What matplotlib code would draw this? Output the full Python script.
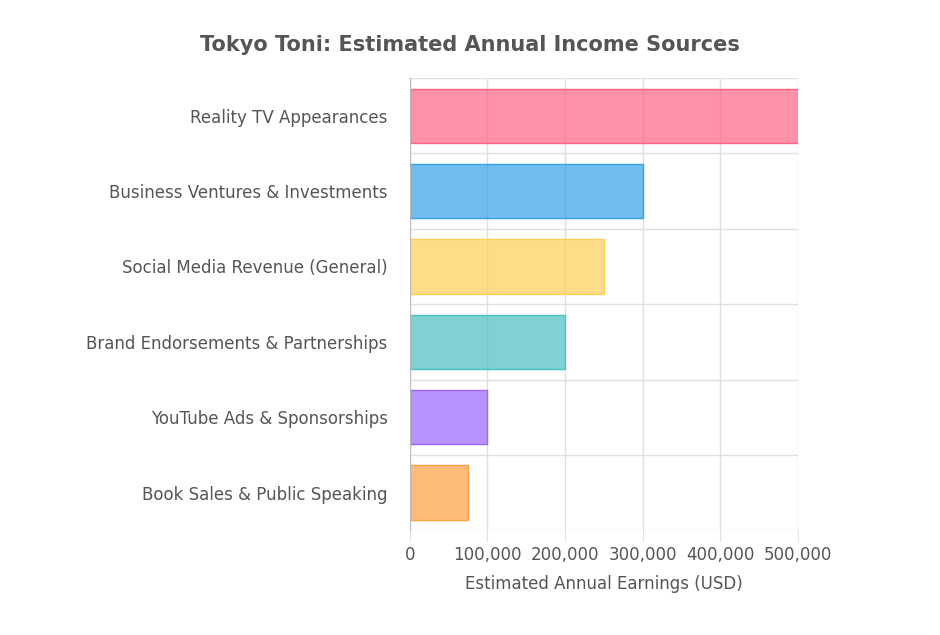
import matplotlib.pyplot as plt
from matplotlib.ticker import FuncFormatter

categories = ["Reality TV Appearances", "Business Ventures & Investments", "Social Media Revenue (General)",
              "Brand Endorsements & Partnerships", "YouTube Ads & Sponsorships", "Book Sales & Public Speaking"]
values = [500000, 300000, 250000, 200000, 100000, 75000]
fills = [(1, 99/255, 132/255, 0.7), (54/255, 162/255, 235/255, 0.7), (1, 206/255, 86/255, 0.7),
         (75/255, 192/255, 192/255, 0.7), (153/255, 102/255, 1, 0.7), (1, 159/255, 64/255, 0.7)]
edges = [(1, 99/255, 132/255), (54/255, 162/255, 235/255), (1, 206/255, 86/255),
         (75/255, 192/255, 192/255), (153/255, 102/255, 1), (1, 159/255, 64/255)]

fig = plt.figure(figsize=(9.4, 6.35), dpi=100)
ax = fig.add_axes([0.436, 0.165, 0.413, 0.712])
y = list(range(len(categories)))
ax.barh(y, values, height=0.72, color=fills, edgecolor=edges, linewidth=1)
ax.set_ylim(len(categories) - 0.5, -0.5)
ax.set_xlim(0, 500000)
ax.set_xticks(range(0, 500001, 100000))
ax.xaxis.set_major_formatter(FuncFormatter(lambda v, p: f"{int(v):,}"))
ax.set_yticks(y)
ax.set_yticklabels(categories)
ax.set_yticks([i + 0.5 for i in range(-1, len(categories))], minor=True)
ax.grid(True, axis='x', color='#e0e0e0', linewidth=1)
ax.grid(True, axis='y', which='minor', color='#e0e0e0', linewidth=1)
ax.set_axisbelow(True)
for s in ['top', 'right', 'bottom']:
    ax.spines[s].set_visible(False)
ax.spines['left'].set_color('#bbbbbb')
ax.tick_params(axis='y', which='major', length=0, labelsize=12, labelcolor='#555555', pad=16)
ax.tick_params(axis='y', which='minor', length=0)
ax.tick_params(axis='x', length=8, color='#e0e0e0', labelsize=12, labelcolor='#555555')
ax.set_xlabel("Estimated Annual Earnings (USD)", fontsize=12, color='#555555', labelpad=8)
fig.text(0.5, 0.92, "Tokyo Toni: Estimated Annual Income Sources", ha='center', fontsize=15,
         fontweight='bold', color='#555555')
fig.savefig("out.png", dpi=100, facecolor='white')
